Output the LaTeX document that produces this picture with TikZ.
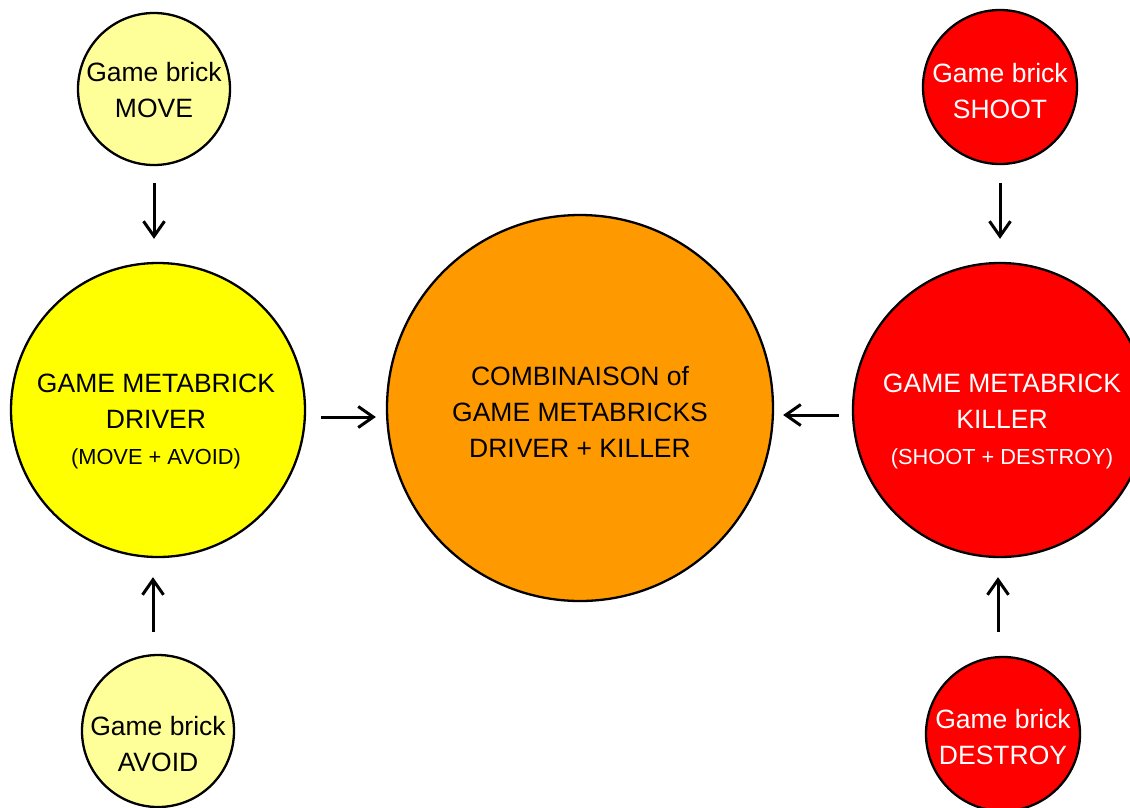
\documentclass[tikz,border=0pt]{standalone}
\usepackage{fontspec}
\setmainfont{Liberation Sans}
\usetikzlibrary{arrows.meta,calc}
\definecolor{lightyel}{HTML}{FFFF99}
\definecolor{yel}{HTML}{FFFF00}
\definecolor{orng}{HTML}{FF9900}
\definecolor{rd}{HTML}{FF0000}
\begin{document}
\begin{tikzpicture}[x=1pt,y=-1pt,
  bubble/.style={circle,draw=black,line width=2.3pt,inner sep=0pt},
  txt/.style={align=center,font=\fontsize{26.5}{36}\selectfont},
  arr/.style={line width=3pt,-{Straight Barb[length=15pt,width=21pt]}}]
\useasboundingbox[fill=white] (0,0) rectangle (1130,807);

\node[bubble,fill=lightyel,minimum size=152pt,
  label={[txt,yshift=-1pt]center:Game brick\\MOVE}] (move) at (154,89) {};
\node[bubble,fill=rd,minimum size=154pt,
  label={[txt,text=white,yshift=-4pt]center:Game brick\\SHOOT}] (shoot) at (1000,87) {};
\node[bubble,fill=yel,minimum size=294pt,
  label={[txt,yshift=-11pt,xshift=-2pt]center:GAME METABRICK\\DRIVER\\{\fontsize{21.8}{30}\selectfont (MOVE + AVOID)}}] (driver) at (158,410) {};
\node[bubble,fill=orng,minimum size=386pt,
  label={[txt,yshift=-4pt]center:COMBINAISON of\\GAME METABRICKS\\DRIVER + KILLER}] (comb) at (580,408) {};
\node[bubble,fill=rd,minimum size=294pt,
  label={[txt,text=white,yshift=-11pt,xshift=2pt]center:GAME METABRICK\\KILLER\\{\fontsize{21.8}{30}\selectfont (SHOOT + DESTROY)}}] (killer) at (1000,410) {};
\node[bubble,fill=lightyel,minimum size=152pt,
  label={[txt,yshift=-13pt]center:Game brick\\AVOID}] (avoid) at (158,731) {};
\node[bubble,fill=rd,minimum size=154pt,
  label={[txt,text=white,yshift=-3pt]center:Game brick\\DESTROY}] (destroy) at (1003,734) {};

\draw[arr,shorten <=17pt,shorten >=23pt] (move.south) -- (move.south |- driver.north);
\draw[arr,shorten <=18pt,shorten >=23pt] (shoot.south) -- (shoot.south |- killer.north);
\draw[arr,shorten <=22pt,shorten >=19pt] ($(avoid.north)+(-5,0)$) -- ($(driver.south -| avoid.north)+(-5,0)$);
\draw[arr,shorten <=24pt,shorten >=19pt] ($(destroy.north)+(-5,0)$) -- ($(killer.south -| destroy.north)+(-5,0)$);
\draw[arr,shorten <=15pt,shorten >=10pt] ($(driver.east)+(0,7)$) -- ($(driver.east -| comb.west)+(0,7)$);
\draw[arr,shorten <=13pt,shorten >=9pt] ($(killer.west)+(0,5)$) -- ($(killer.west -| comb.east)+(0,5)$);
\end{tikzpicture}
\end{document}
